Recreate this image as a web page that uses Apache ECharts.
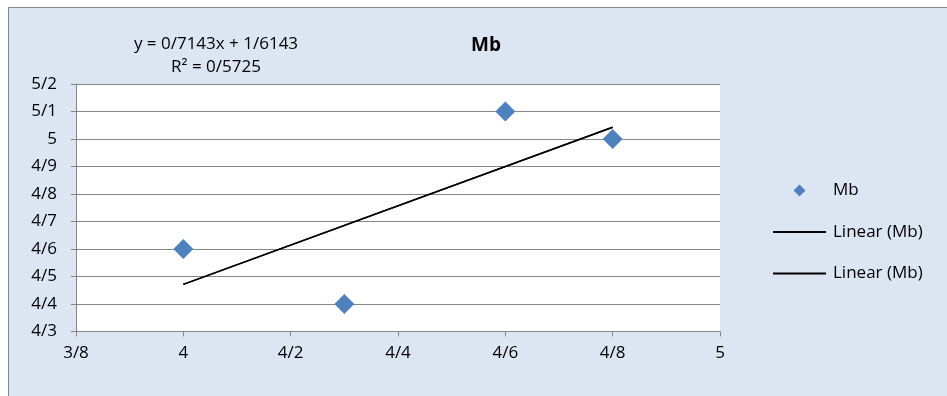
<!DOCTYPE html>
<html>
<head>
<meta charset="utf-8">
<script src="https://cdn.jsdelivr.net/npm/echarts@6/dist/echarts.min.js"></script>
<style>
  html, body { margin: 0; padding: 0; background: #ffffff; }
  #chart { width: 947px; height: 396px; }
</style>
</head>
<body>
<div id="chart"></div>
<script>
// Measured Mb values
const mbX = [4.0, 4.3, 4.6, 4.8];
const mbY = [4.6, 4.4, 5.1, 5.0];

// Least-squares trend coefficients shown in the equation label
const trendSlope = 0.7143;
const trendIntercept = 1.6143;
const trendR2 = 0.5725;
const trendRange = [4.0, 4.8];

// Axis ranges
const xAxisRange = { min: 3.8, max: 5.0, step: 0.2 };
const yAxisRange = { min: 4.3, max: 5.2, step: 0.1 };

const FONT = '"Open Sans", Lato, sans-serif';
const FONT_SIZE = 17;
const slashNum = (v, d) => String(+(+v).toFixed(d)).replace('.', '/');

const scatterData = mbX.map((x, i) => [x, mbY[i]]);
const trendData = trendRange.map(x => [x, trendSlope * x + trendIntercept]);

const chart = echarts.init(document.getElementById('chart'), null, { renderer: 'canvas' });

chart.setOption({
  animation: false,
  backgroundColor: '#ffffff',
  graphic: [
    {
      type: 'rect', z: -10, silent: true,
      shape: { x: 8.5, y: 7.5, width: 960, height: 400 },
      style: { fill: '#dce6f2', stroke: '#868686', lineWidth: 1 }
    },
    {
      type: 'text', silent: true,
      style: {
        text: 'Mb', font: 'bold 19px ' + FONT, fill: '#000000',
        align: 'center', verticalAlign: 'middle', x: 486, y: 46
      }
    },
    {
      type: 'text', silent: true,
      style: {
        text: 'y = ' + slashNum(trendSlope, 4) + 'x + ' + slashNum(trendIntercept, 4),
        font: FONT_SIZE + 'px ' + FONT, fill: '#000000', align: 'center', verticalAlign: 'middle',
        x: 216, y: 44
      }
    },
    {
      type: 'text', silent: true,
      style: {
        text: 'R² = ' + slashNum(trendR2, 4),
        font: FONT_SIZE + 'px ' + FONT, fill: '#000000', align: 'center', verticalAlign: 'middle',
        x: 216, y: 67
      }
    }
  ],
  grid: { left: 76, right: 227, top: 84, bottom: 64.5, backgroundColor: '#ffffff', show: true, borderWidth: 0 },
  legend: {
    orient: 'vertical',
    left: 768, top: 177,
    itemWidth: 53, itemHeight: 12, itemGap: 24.5,
    symbolKeepAspect: true,
    textStyle: { fontFamily: FONT, fontSize: FONT_SIZE, color: '#000000', padding: [0, 0, 0, 2] },
    formatter: n => n.trim(),
    data: [
      { name: 'Mb', icon: 'path://M6,0L12,6L6,12L0,6Z', itemStyle: { color: '#4f81bd' } },
      { name: 'Linear (Mb)', icon: 'path://M0,0L53,0L53,2L0,2Z', itemStyle: { color: '#000000' } },
      { name: 'Linear (Mb) ', icon: 'path://M0,0L53,0L53,2L0,2Z', itemStyle: { color: '#000000' } }
    ]
  },
  xAxis: {
    type: 'value',
    min: xAxisRange.min, max: xAxisRange.max, interval: xAxisRange.step,
    axisLine: { show: true, onZero: false, lineStyle: { color: '#868686', width: 1 } },
    axisTick: { show: true, inside: false, length: 5, lineStyle: { color: '#868686' } },
    splitLine: { show: false },
    axisLabel: { fontFamily: FONT, fontSize: FONT_SIZE, color: '#000000', margin: 13, formatter: v => slashNum(v, 1) }
  },
  yAxis: {
    type: 'value',
    min: yAxisRange.min, max: yAxisRange.max, interval: yAxisRange.step,
    axisLine: { show: true, onZero: false, lineStyle: { color: '#868686', width: 1 } },
    axisTick: { show: true, inside: false, length: 5, lineStyle: { color: '#868686' } },
    splitLine: { show: true, lineStyle: { color: '#868686', width: 1 } },
    axisLabel: { fontFamily: FONT, fontSize: FONT_SIZE, color: '#000000', margin: 19, formatter: v => slashNum(v, 1) }
  },
  series: [
    {
      name: 'Mb', type: 'scatter', symbol: 'diamond', symbolSize: 20,
      itemStyle: { color: '#4f81bd', opacity: 1 },
      data: scatterData, z: 3
    },
    {
      name: 'Linear (Mb)', type: 'line', symbol: 'none', showSymbol: false,
      lineStyle: { color: '#000000', width: 1.5 }, itemStyle: { color: '#000000' },
      data: trendData, z: 2
    },
    {
      name: 'Linear (Mb) ', type: 'line', symbol: 'none', showSymbol: false,
      lineStyle: { color: '#000000', width: 1.5 }, itemStyle: { color: '#000000' },
      data: trendData, z: 2
    }
  ]
});
</script>
</body>
</html>
